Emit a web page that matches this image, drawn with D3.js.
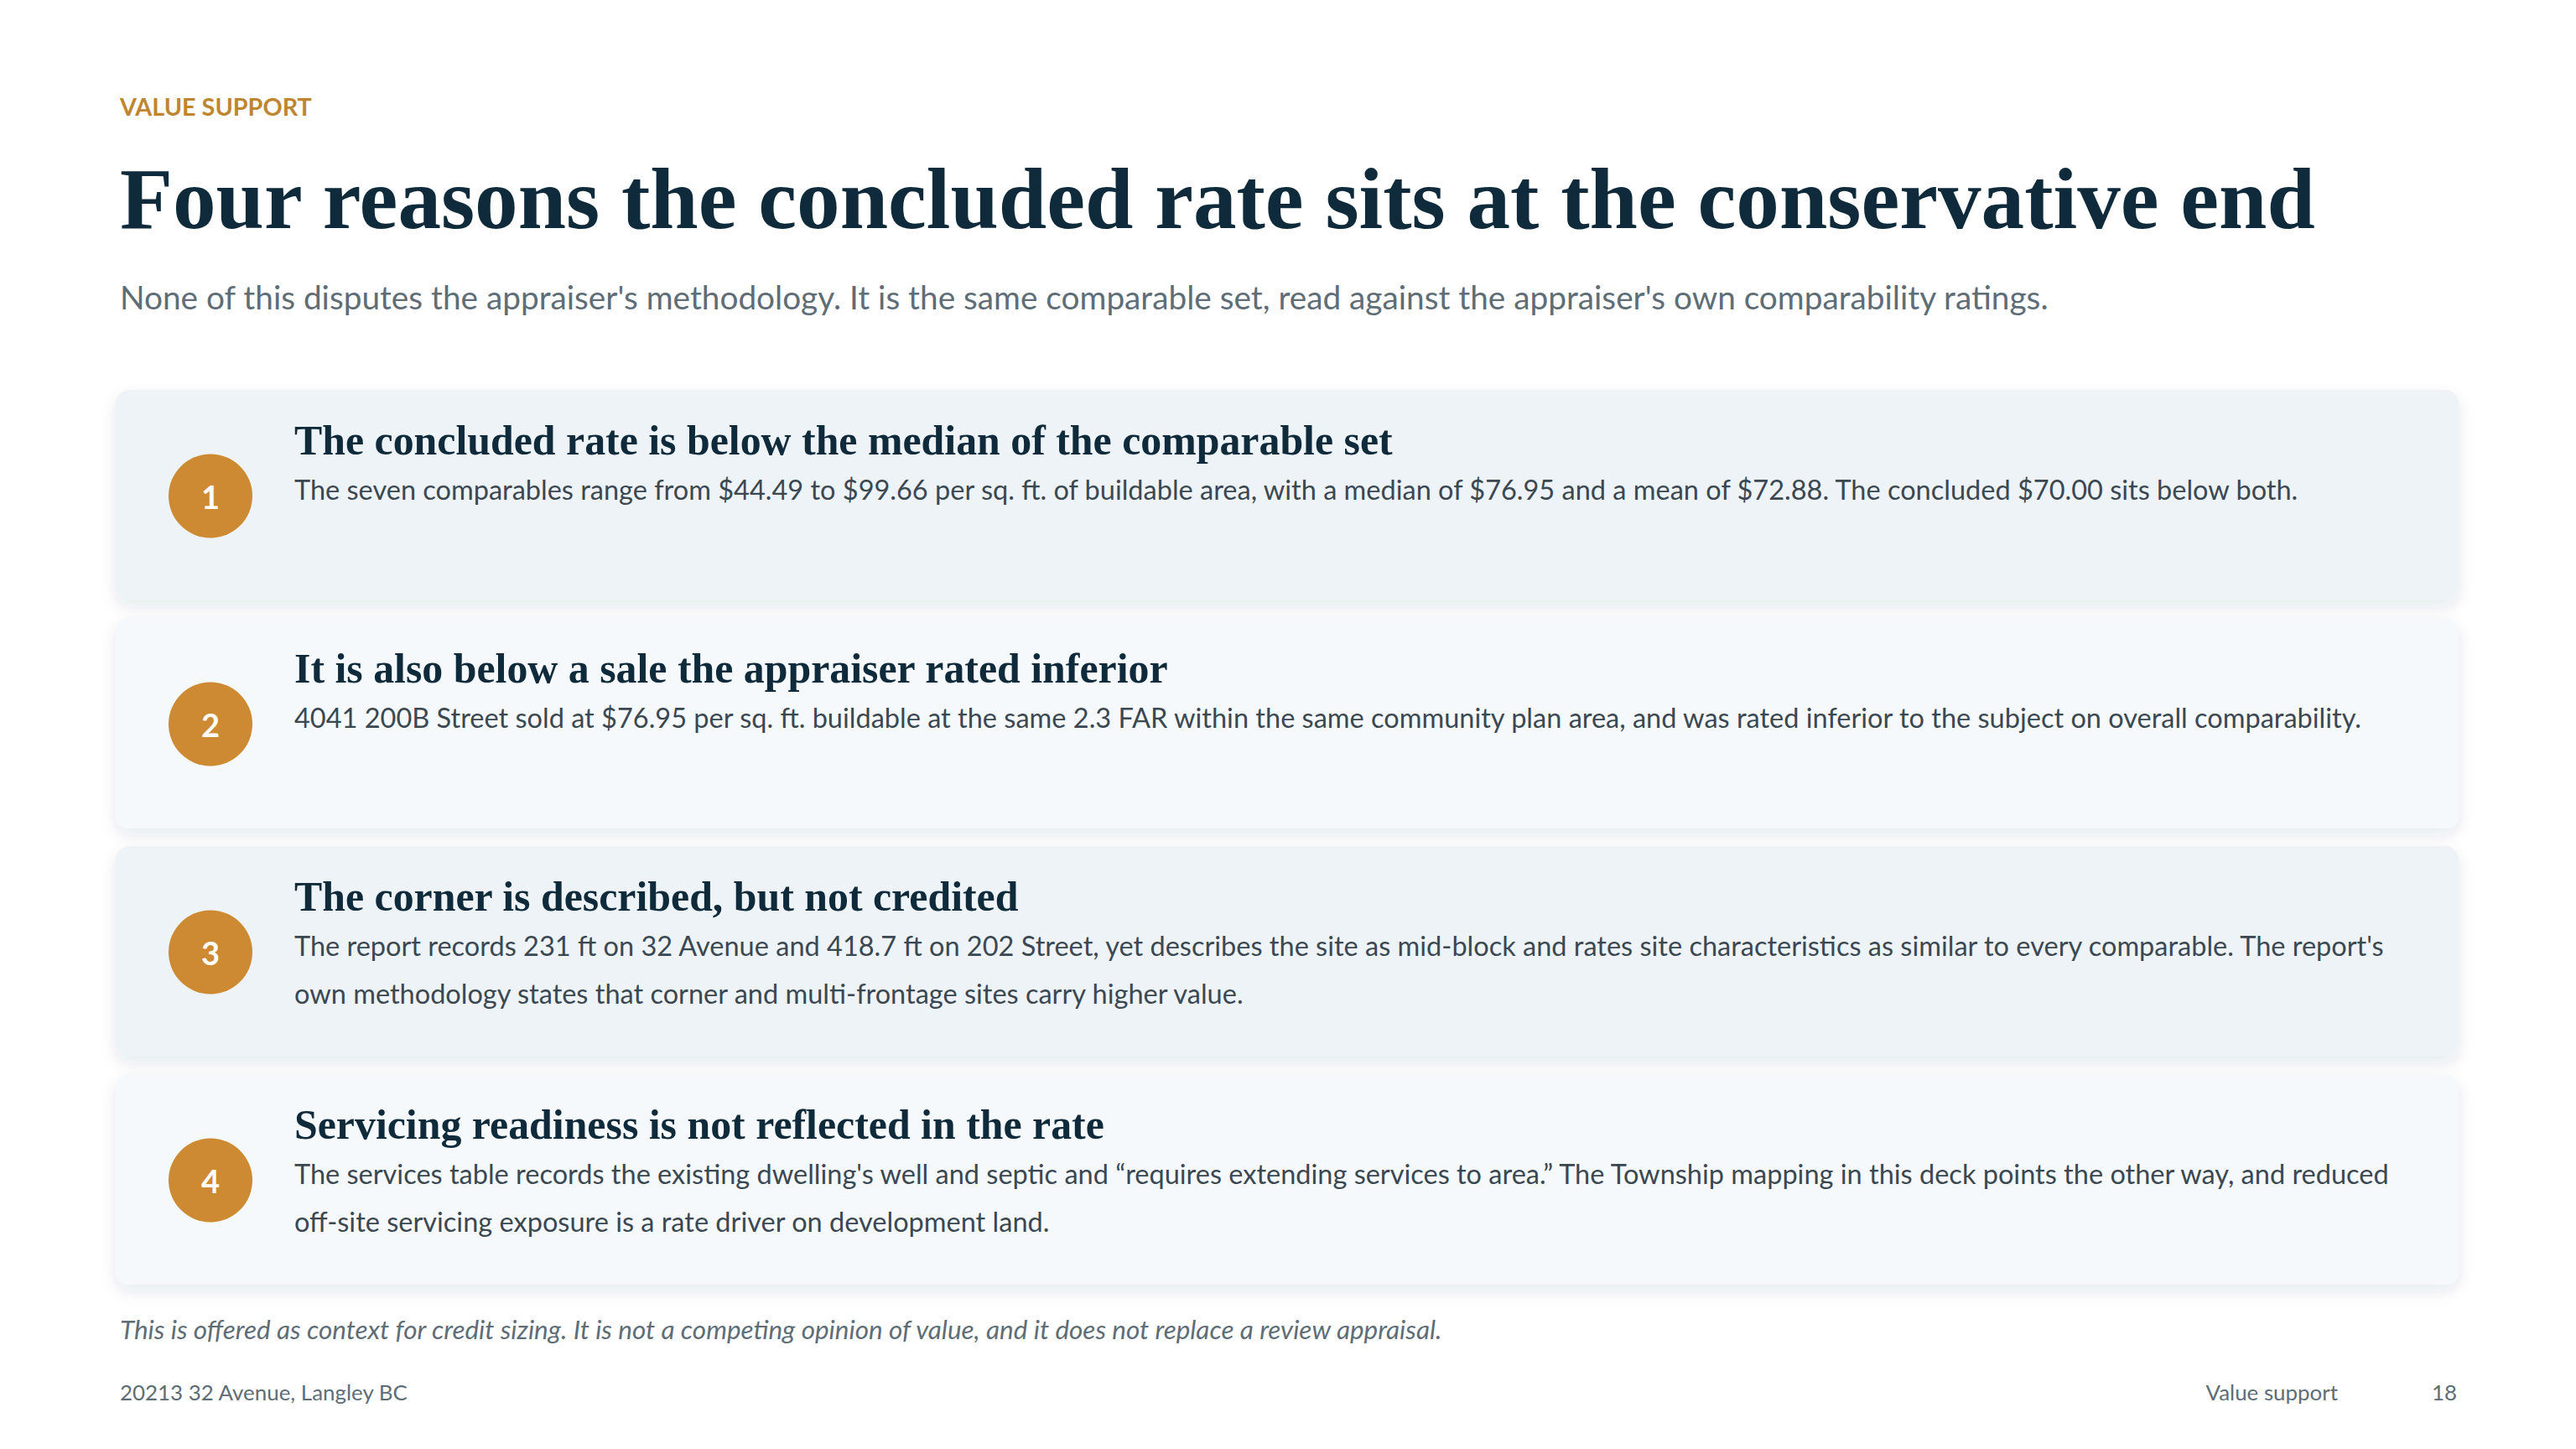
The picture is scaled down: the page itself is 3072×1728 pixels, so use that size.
<!DOCTYPE html>
<html>
<head>
<meta charset="utf-8">
<script src="https://cdn.jsdelivr.net/npm/d3@7/dist/d3.min.js"></script>
<style>
  html, body { margin: 0; padding: 0; background: #ffffff; }
  svg { display: block; }
</style>
</head>
<body>
<svg id="chart" width="3072" height="1728" viewBox="0 0 3072 1728"></svg>
<script>
// ---------- content ----------
const eyebrow = "VALUE SUPPORT";
const title = "Four reasons the concluded rate sits at the conservative end";
const subtitle = "None of this disputes the appraiser's methodology. It is the same comparable set, read against the appraiser's own comparability ratings.";
const reasonNumbers = ["1", "2", "3", "4"];
const reasonHeadings = [
  "The concluded rate is below the median of the comparable set",
  "It is also below a sale the appraiser rated inferior",
  "The corner is described, but not credited",
  "Servicing readiness is not reflected in the rate"
];
const reasonBodies = [
  ["The seven comparables range from $44.49 to $99.66 per sq. ft. of buildable area, with a median of $76.95 and a mean of $72.88. The concluded $70.00 sits below both."],
  ["4041 200B Street sold at $76.95 per sq. ft. buildable at the same 2.3 FAR within the same community plan area, and was rated inferior to the subject on overall comparability."],
  ["The report records 231 ft on 32 Avenue and 418.7 ft on 202 Street, yet describes the site as mid-block and rates site characteristics as similar to every comparable. The report's",
   "own methodology states that corner and multi-frontage sites carry higher value."],
  ["The services table records the existing dwelling's well and septic and \u201crequires extending services to area.\u201d The Township mapping in this deck points the other way, and reduced",
   "off-site servicing exposure is a rate driver on development land."]
];
const note = "This is offered as context for credit sizing. It is not a competing opinion of value, and it does not replace a review appraisal.";
const footerLeft = "20213 32 Avenue, Langley BC";
const footerSection = "Value support";
const pageNumber = "18";

// ---------- styling ----------
const SANS = "Lato, 'Open Sans', 'Noto Sans', sans-serif";
const SERIF = "'Liberation Serif', 'DejaVu Serif', serif";
const NAVY = "#0f2a3a";
const BODY = "#3b4852";
const GREY = "#5e6d76";
const GOLD = "#c0862f";
const CIRCLE = "#cd8a32";
const CARD_BG = ["#edf3f6", "#f5f9fb"];

const svg = d3.select("#chart");
const defs = svg.append("defs");
const f = defs.append("filter").attr("id", "shadow")
  .attr("x", "-5%").attr("y", "-20%").attr("width", "110%").attr("height", "150%");
f.append("feDropShadow").attr("dx", 0).attr("dy", 8).attr("stdDeviation", 9)
  .attr("flood-color", "#1d3644").attr("flood-opacity", 0.10);

// fit a text's font-size so that its rendered width equals target
function fit(sel, target) {
  const node = sel.node();
  const fs = parseFloat(sel.attr("font-size"));
  const w = node.getComputedTextLength();
  const nfs = fs * target / w;
  sel.attr("font-size", nfs);
  return nfs;
}

const LEFT = 143;

// header
const eb = svg.append("text").attr("x", LEFT).attr("y", 138)
  .attr("font-family", SANS).attr("font-weight", 700).attr("font-size", 28)
  .attr("fill", GOLD).text(eyebrow);
fit(eb, 229);

const tt = svg.append("text").attr("x", LEFT).attr("y", 272)
  .attr("font-family", SERIF).attr("font-weight", 700).attr("font-size", 96)
  .attr("fill", NAVY).text(title);
fit(tt, 2618);

const st = svg.append("text").attr("x", LEFT).attr("y", 369)
  .attr("font-family", SANS).attr("font-size", 34)
  .attr("fill", GREY).text(subtitle);
fit(st, 2300);

// cards
const y = d3.scaleBand().domain(reasonNumbers).range([465, 1532]).paddingInner(21 / 272);
const cardX = 138, cardW = 2794;

const cards = svg.selectAll("g.card").data(reasonNumbers).join("g")
  .attr("class", "card")
  .attr("transform", d => `translate(0,${y(d)})`);

cards.append("rect")
  .attr("x", cardX).attr("y", 0).attr("width", cardW).attr("height", y.bandwidth())
  .attr("rx", 16).attr("ry", 16)
  .attr("fill", (d, i) => CARD_BG[i % 2])
  .attr("filter", "url(#shadow)");

cards.append("circle")
  .attr("cx", 251).attr("cy", y.bandwidth() / 2 + 1).attr("r", 50)
  .attr("fill", CIRCLE);

cards.append("text")
  .attr("x", 251).attr("y", y.bandwidth() / 2 + 1)
  .attr("text-anchor", "middle").attr("dominant-baseline", "central")
  .attr("font-family", SANS).attr("font-weight", 700).attr("font-size", 38)
  .attr("fill", "#ffffff").text(d => d);

const TX = 351;
const heads = cards.append("text")
  .attr("x", TX).attr("y", 77)
  .attr("font-family", SERIF).attr("font-weight", 700).attr("font-size", 45)
  .attr("fill", NAVY).text((d, i) => reasonHeadings[i]);
const hfs = fit(d3.select(heads.nodes()[0]), 1310);
heads.attr("font-size", hfs);

const bodies = cards.append("text")
  .attr("font-family", SANS).attr("font-size", 32).attr("fill", BODY);
bodies.selectAll("tspan").data((d, i) => reasonBodies[i]).join("tspan")
  .attr("x", TX).attr("y", (d, j) => 131 + j * 57).text(d => d);
// fit body size using first card's line
const probe = svg.append("text").attr("font-family", SANS).attr("font-size", 32).text(reasonBodies[0][0]);
const bfs = fit(probe, 2390);
probe.remove();
bodies.attr("font-size", bfs);

// note
const nt = svg.append("text").attr("x", LEFT).attr("y", 1597)
  .attr("font-family", SANS).attr("font-style", "italic").attr("font-size", 28)
  .attr("fill", GREY).text(note);
fit(nt, 1577);

// footer
const fl = svg.append("text").attr("x", LEFT).attr("y", 1670)
  .attr("font-family", SANS).attr("font-size", 25).attr("fill", GREY).text(footerLeft);
const ffs = fit(fl, 343);
svg.append("text").attr("x", 2788).attr("y", 1670).attr("text-anchor", "end")
  .attr("font-family", SANS).attr("font-size", ffs).attr("fill", GREY).text(footerSection);
svg.append("text").attr("x", 2930).attr("y", 1670).attr("text-anchor", "end")
  .attr("font-family", SANS).attr("font-size", ffs).attr("fill", GREY).text(pageNumber);
</script>
</body>
</html>
